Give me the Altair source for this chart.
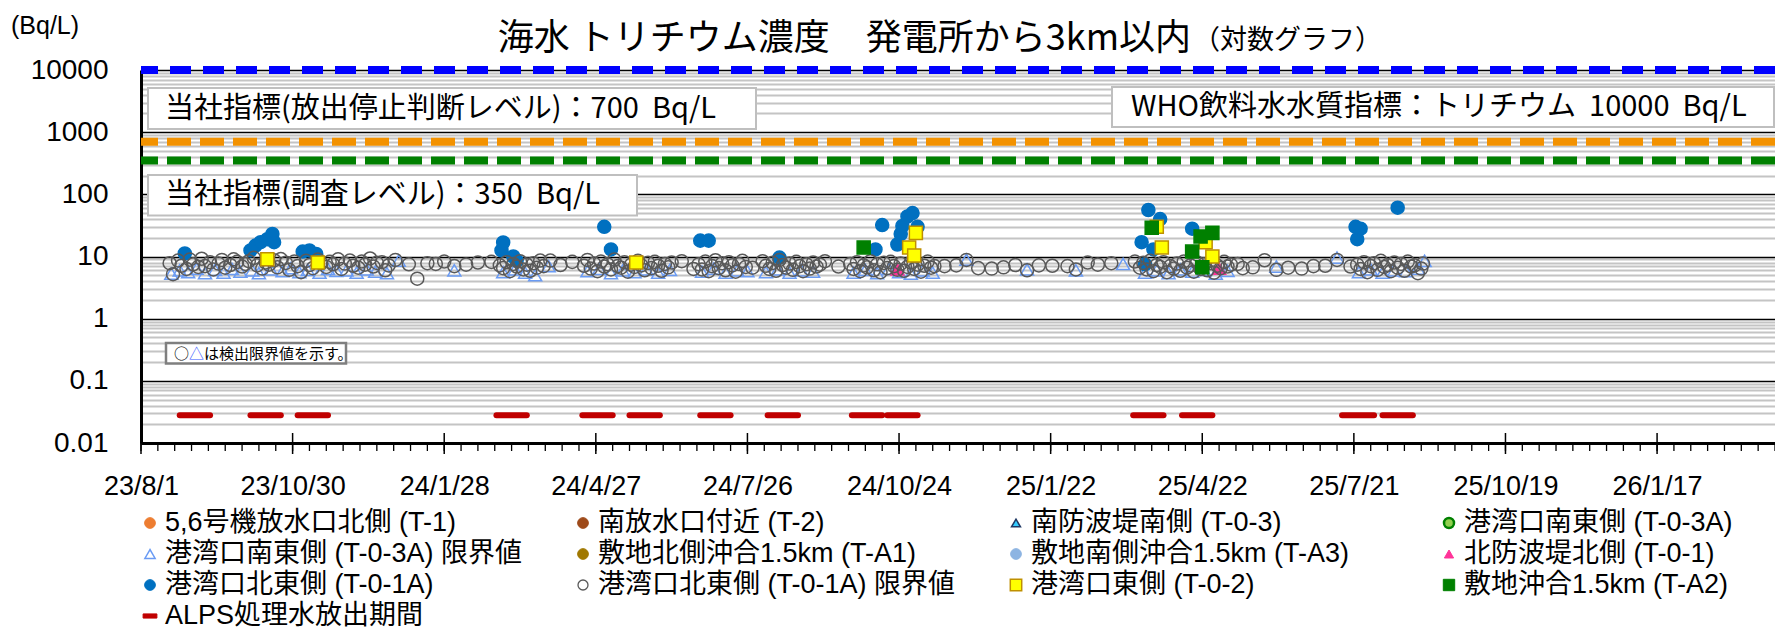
import altair as alt
import pandas as pd

FONT = "Noto Sans CJK JP"
LFONT = "Liberation Sans, Noto Sans CJK JP"
BASE = "2023-08-01"
DAY_MS = 86400000
base_ms = int(pd.Timestamp(BASE, tz="UTC").value // 10**6)

# ---------------- data ----------------
series_names = [
    "5,6号機放水口北側 (T-1)", "南放水口付近 (T-2)", "南防波堤南側 (T-0-3)", "港湾口南東側 (T-0-3A)",
    "港湾口南東側 (T-0-3A) 限界値", "敷地北側沖合1.5km (T-A1)", "敷地南側沖合1.5km (T-A3)", "北防波堤北側 (T-0-1)",
    "港湾口北東側 (T-0-1A)", "港湾口北東側 (T-0-1A) 限界値", "港湾口東側 (T-0-2)", "敷地沖合1.5km (T-A2)",
    "ALPS処理水放出期間",
]

# (days since 2023-08-01, Bq/L)
t03a_limit = [
    (18, 5.3), (23, 6.0), (28, 5.6), (33, 6.4), (38, 5.4), (44, 6.1), (49, 5.5), (54, 6.3), (59, 5.7),
    (66, 6.0), (70, 5.4), (77, 6.2), (84, 5.8), (89, 6.5), (94, 5.6), (99, 6.1), (106, 5.5), (111, 6.3),
    (116, 5.9), (122, 6.0), (128, 5.5), (134, 6.2), (139, 5.7), (146, 5.4), (153, 8.6), (186, 6.0),
    (215, 5.6), (222, 6.2), (228, 5.5), (234, 5.0), (242, 7.0), (265, 5.8), (272, 6.3), (279, 5.4),
    (286, 6.0), (293, 5.6), (300, 6.2), (307, 5.5), (314, 6.1), (333, 5.7), (340, 6.4), (347, 5.5),
    (354, 6.0), (360, 5.8), (371, 5.6), (378, 6.2), (385, 5.5), (392, 6.0), (399, 5.7), (423, 5.5),
    (430, 6.1), (437, 5.4), (444, 6.3), (450, 5.6), (457, 5.3), (464, 6.0), (470, 5.5), (490, 8.9),
    (526, 6.2), (555, 6.0), (583, 7.6), (596, 5.5), (603, 6.0), (610, 5.4), (617, 6.2), (624, 5.7),
    (631, 6.1), (638, 5.3), (645, 5.9), (674, 6.9), (710, 9.6), (723, 5.6), (730, 6.2), (737, 5.5),
    (744, 6.0), (751, 5.8), (758, 6.4), (762, 8.5),
]
t01_pink = [(449, 6.2), (640, 6.4)]
t01a_blue = [
    (26, 11.2), (65, 12.5), (68, 15), (71, 17), (75, 19), (78, 23), (79, 17), (96, 12), (100, 12.5),
    (104, 11), (214, 12.5), (215, 16.8), (221, 10), (223, 8.6), (275, 30), (279, 13), (332, 18),
    (337, 18), (379, 9.6), (436, 13), (440, 32), (449, 15.6), (451, 23), (452, 31), (455, 44),
    (458, 50), (461, 30), (594, 17), (596, 7.5), (598, 56), (601, 13), (605, 40), (624, 28),
    (721, 30), (722, 19), (724, 28), (746, 61),
]
t01a_limit = [
    (17, 7.8), (19, 5.2), (22, 8.6), (24, 7.1), (27, 6.3), (29, 8.9), (31, 7.5), (34, 6.8), (36, 9.2),
    (38, 7.0), (41, 8.1), (43, 6.2), (46, 7.7), (48, 8.8), (50, 6.6), (53, 7.3), (55, 9.0), (57, 8.2),
    (60, 6.9), (62, 7.6), (64, 8.4), (67, 9.5), (69, 7.2), (72, 6.4), (74, 8.0), (76, 7.4), (79, 8.7),
    (81, 6.7), (83, 9.1), (86, 7.9), (88, 6.1), (91, 8.3), (93, 7.0), (95, 5.6), (98, 8.5), (100, 7.3),
    (102, 6.5), (105, 8.9), (107, 7.8), (110, 6.8), (112, 8.2), (114, 7.5), (117, 9.0), (119, 6.3),
    (121, 7.7), (124, 8.6), (126, 7.1), (129, 6.6), (131, 8.3), (133, 7.4), (136, 9.3), (138, 6.9),
    (140, 7.9), (143, 8.1), (145, 6.0), (147, 7.2),
    (151, 8.8), (159, 7.5), (164, 4.4), (170, 7.8), (175, 7.6), (180, 8.3), (186, 7.0), (193, 7.4),
    (200, 8.0), (208, 8.2),
    (213, 7.2), (215, 6.5), (217, 8.1), (219, 5.8), (221, 7.6), (223, 6.9), (225, 8.4), (227, 6.2),
    (229, 7.4), (231, 5.9), (233, 7.8), (235, 6.6), (237, 8.6), (239, 7.0),
    (243, 8.6), (249, 7.3), (256, 8.2),
    (263, 7.1), (265, 8.8), (267, 6.4), (269, 7.7), (271, 5.8), (273, 8.3), (275, 6.9), (277, 7.5),
    (279, 6.2), (281, 8.9), (283, 7.0), (285, 6.6), (287, 8.1), (289, 5.7), (291, 7.4), (293, 6.8),
    (295, 8.5), (297, 7.2), (299, 6.0), (301, 7.9), (303, 6.5), (305, 8.2), (307, 7.1), (309, 5.9),
    (311, 7.6), (313, 6.7), (315, 8.0),
    (321, 8.4), (328, 6.3),
    (331, 7.5), (333, 6.2), (335, 8.3), (337, 5.8), (339, 7.0), (341, 8.7), (343, 6.5), (345, 7.8),
    (347, 6.0), (349, 8.1), (351, 7.2), (353, 5.7), (355, 7.6), (357, 8.5), (359, 6.8),
    (363, 6.6),
    (369, 8.4), (371, 7.1), (373, 6.3), (375, 7.9), (377, 5.9), (379, 8.8), (381, 7.3), (383, 6.6),
    (385, 7.7), (387, 6.1), (389, 8.2), (391, 7.0), (393, 5.8), (395, 7.5), (397, 6.4), (399, 8.0),
    (401, 6.9), (403, 7.4),
    (406, 8.4), (414, 6.9),
    (421, 7.6), (423, 6.3), (425, 8.1), (427, 5.8), (429, 7.2), (431, 6.7), (433, 8.4), (435, 6.0),
    (437, 7.5), (439, 5.6), (441, 7.9), (443, 6.5), (445, 8.2), (447, 7.0), (449, 6.1), (451, 7.7),
    (453, 5.9), (455, 6.8), (457, 8.0), (459, 6.3), (461, 7.4), (463, 5.7), (465, 7.1), (467, 8.3),
    (469, 6.6), (471, 7.0),
    (477, 7.0), (484, 7.2), (490, 8.8), (497, 6.5), (505, 6.4), (512, 6.7), (519, 7.3), (526, 6.0),
    (533, 7.2), (541, 7.1), (550, 7.0), (555, 6.2), (562, 8.0), (568, 7.4), (576, 7.8), (590, 8.3),
    (593, 6.6), (595, 7.9), (597, 6.2), (599, 8.5), (601, 5.8), (603, 7.3), (605, 6.8), (607, 8.1),
    (609, 5.6), (611, 7.0), (613, 6.4), (615, 7.7), (617, 5.9), (619, 8.3), (621, 6.6), (623, 7.2),
    (625, 5.7), (627, 8.0), (629, 6.3), (631, 7.5), (633, 6.0), (635, 7.8), (637, 5.5), (639, 7.1),
    (641, 6.5), (643, 8.2), (645, 6.9), (647, 7.4),
    (651, 7.6), (654, 6.5), (660, 6.7), (667, 8.7), (674, 6.1), (681, 6.6), (689, 6.4), (696, 7.0),
    (703, 7.1), (710, 8.8), (718, 6.9),
    (722, 7.4), (724, 6.3), (726, 8.1), (728, 5.6), (730, 7.0), (732, 7.8), (734, 6.1), (736, 8.5),
    (738, 6.8), (740, 7.3), (742, 5.8), (744, 8.0), (746, 6.6), (748, 7.6), (750, 5.9), (752, 8.3),
    (754, 6.9), (756, 7.2), (758, 5.4), (760, 6.4), (761, 7.7),
]
t02_yellow = [(75, 9), (105, 8), (294, 8), (456, 14), (459, 10.4), (460, 24), (603, 30), (606, 14),
              (632, 17), (636, 10)]
ta2_green = [(429, 14), (600, 29), (624, 12), (629, 21), (630, 6.7), (636, 24)]

alps_start = ["2023-08-24", "2023-10-05", "2023-11-02", "2024-02-28", "2024-04-19", "2024-05-17",
              "2024-06-28", "2024-08-07", "2024-09-26", "2024-10-17", "2025-03-12", "2025-04-10",
              "2025-07-14", "2025-08-07"]
alps_end = ["2023-09-11", "2023-10-23", "2023-11-20", "2024-03-17", "2024-05-07", "2024-06-04",
            "2024-07-16", "2024-08-25", "2024-10-14", "2024-11-04", "2025-03-30", "2025-04-28",
            "2025-08-02", "2025-08-25"]
alps_level = 0.028

who_level = [10000]
stop_level = [700]
survey_level = [350]

major_tick_labels = ["2023-08-01", "2023-10-30", "2024-01-28", "2024-04-27", "2024-07-26",
                     "2024-10-24", "2025-01-22", "2025-04-22", "2025-07-21", "2025-10-19", "2026-01-17"]

# ---------------- styles ----------------
shape_range = ["circle", "circle", "triangle-up", "circle", "triangle-up", "circle", "circle",
               "triangle-up", "circle", "circle", "square", "square", "M-1,-0.3H1V0.3H-1Z"]
fill_range = ["#ED7D31", "#9E4A1A", "#33CCFF", "#92D050", "transparent", "#A07800", "#8DB4E2",
              "#FF3399", "#0070C0", "transparent", "#FFFF00", "#008000", "#C00000"]
stroke_range = ["#ED7D31", "#9E4A1A", "#1F3864", "#008000", "#6A9BF4", "#A07800", "#8DB4E2",
                "#FF3399", "#0070C0", "#595959", "#BF9000", "#008000", "#C00000"]
size_range = [170, 170, 180, 170, 190, 170, 170, 70, 175, 185, 230, 230, 100]
legend_sizes = [115, 115, 80, 100, 105, 115, 115, 85, 115, 100, 130, 130, 190]
legend_sw = [1, 1, 1.5, 2.5, 1.5, 1, 1, 1, 1, 1.3, 1.5, 1, 1]

W, H = 1634, 373
N_DAYS = 970


def ms(s):
    return int(pd.Timestamp(s, tz="UTC").value // 10**6)


rows = []
for name, pts in [(series_names[4], t03a_limit), (series_names[7], t01_pink), (series_names[8], t01a_blue),
                  (series_names[9], t01a_limit), (series_names[10], t02_yellow), (series_names[11], ta2_green)]:
    for d, v in pts:
        rows.append({"series": name, "t": base_ms + d * DAY_MS, "v": v})
df = pd.DataFrame(rows)

alps_df = pd.DataFrame({"s": [ms(s) for s in alps_start], "e": [ms(e) for e in alps_end],
                        "v": [alps_level] * len(alps_start)})
major_df = pd.DataFrame({"t": [ms(s) for s in major_tick_labels]})
minor_df = pd.DataFrame({"t": [base_ms + d * DAY_MS for d in range(0, N_DAYS + 1, 10)]})

decades = [0.01, 0.1, 1, 10, 100, 1000, 10000]
y_ticks = decades + [m * d for d in decades[:-1] for m in range(2, 10)]

dec_test = "indexof([0.01,0.1,1,10,100,1000,10000], datum.value) >= 0"

xscale = alt.Scale(type="utc", domain=[base_ms, base_ms + N_DAYS * DAY_MS], nice=False)
yscale = alt.Scale(type="log", domain=[0.01, 10000], nice=False)

xaxis = alt.Axis(
    values=[ms(s) for s in major_tick_labels], grid=False, domainColor="black", domainWidth=3, ticks=False,
    labelFontSize=27, labelFont=LFONT, labelColor="black", labelPadding=30, labelOverlap=False,
    labelFlush=False, labelExpr="utcFormat(datum.value, '%y/%-m/%-d')", title=None,
)
yaxis = alt.Axis(
    values=y_ticks, format="~g", labelExpr=f"{dec_test} ? datum.label : ''", ticks=False,
    domainColor="black", domainWidth=3, labelFontSize=28, labelFont=LFONT, labelColor="black",
    labelPadding=33, labelOverlap=False, labelFlush=False,
    gridColor={"condition": {"test": dec_test, "value": "#000000"}, "value": "#c4c4c4"},
    gridWidth={"condition": {"test": dec_test, "value": 1.6}, "value": 2},
    title=None,
)

points = alt.Chart(df).mark_point(opacity=1, fillOpacity=1, strokeWidth=1.5).encode(
    x=alt.X("t:T", scale=xscale, axis=xaxis),
    y=alt.Y("v:Q", scale=yscale, axis=yaxis),
    shape=alt.Shape("series:N", scale=alt.Scale(domain=series_names, range=shape_range), legend=None),
    fill=alt.Fill("series:N", scale=alt.Scale(domain=series_names, range=fill_range), legend=None),
    stroke=alt.Stroke("series:N", scale=alt.Scale(domain=series_names, range=stroke_range), legend=None),
    size=alt.Size("series:N", scale=alt.Scale(domain=series_names, range=size_range), legend=None),
)

alps = alt.Chart(alps_df).mark_rule(color="#C00000", strokeWidth=6, strokeCap="round").encode(
    x="s:T", x2="e:T", y="v:Q"
)

who_line = alt.Chart(pd.DataFrame({"v": who_level})).mark_rule(
    color="#0000FF", strokeWidth=8, strokeDash=[21, 12]).encode(y="v:Q")
stop_line = alt.Chart(pd.DataFrame({"v": stop_level})).mark_rule(
    color="#F39200", strokeWidth=8, strokeDash=[24, 9]).encode(y="v:Q")
survey_line = alt.Chart(pd.DataFrame({"v": survey_level})).mark_rule(
    color="#008000", strokeWidth=8, strokeDash=[24, 9]).encode(y="v:Q")

major_ticks = alt.Chart(major_df).mark_rule(color="black", strokeWidth=1.5).encode(
    x="t:T", y=alt.value(H - 10), y2=alt.value(H + 11)
)
minor_ticks = alt.Chart(minor_df).mark_rule(color="black", strokeWidth=1.3).encode(
    x="t:T", y=alt.value(H), y2=alt.value(H + 8)
)

one = pd.DataFrame({"a": [0]})
NB = "\u00a0"


def box(x1, x2, y1, y2, stroke="#bfbfbf", sw=2):
    return alt.Chart(one).mark_rect(fill="white", stroke=stroke, strokeWidth=sw).encode(
        x=alt.value(x1), x2=alt.value(x2), y=alt.value(y1), y2=alt.value(y2))


def label(text, x, y, size, color="black", align="left", font=FONT):
    return alt.Chart(pd.DataFrame({"txt": [text]})).mark_text(
        font=font, fontSize=size, color=color, align=align, baseline="middle").encode(
        x=alt.value(x), y=alt.value(y), text="txt:N")


layers = [
    box(7, 615, 18, 59), label(f"当社指標(放出停止判断レベル)：700{NB}{NB}Bq/L", 24, 38.5, 29),
    box(971, 1633, 17, 57), label(f"WHO飲料水水質指標：トリチウム{NB}{NB}10000{NB}{NB}Bq/L", 990, 37, 29),
    box(7, 496, 105, 145.5), label(f"当社指標(調査レベル)：350{NB}{NB}Bq/L", 24, 125, 29),
    box(25, 205, 273, 293.5, stroke="#7f7f7f", sw=2.5),
    label("○", 33, 283.5, 15), label("△", 48, 283.5, 15, color="#3355FF"),
    label("は検出限界値を示す。", 63, 283.5, 15),
    stop_line, survey_line, alps, points, who_line, major_ticks, minor_ticks,
    label("海水 トリチウム濃度　発電所から3km以内", 1050, -31, 36, align="right"),
    label("（対数グラフ）", 1052, -29, 27),
    label("(Bq/L)", -130, -44, 25, font=LFONT),
]

# manual legend: 4 columns, row-major, in the reference's order
LEG_X0, LEG_DX = 9, 433
LEG_Y0, LEG_DY = 453, 31
for i, name in enumerate(series_names):
    col, row = i % 4, i // 4
    sx = LEG_X0 + col * LEG_DX
    sy = LEG_Y0 + row * LEG_DY
    layers.append(
        alt.Chart(one).mark_point(
            shape=shape_range[i], fill=fill_range[i], stroke=stroke_range[i], size=legend_sizes[i],
            strokeWidth=legend_sw[i], opacity=1, fillOpacity=1,
        ).encode(x=alt.value(sx), y=alt.value(sy))
    )
    layers.append(label(name, sx + 15, sy, 27, font=LFONT))

chart = alt.layer(*layers).properties(
    width=W, height=H, autosize="none",
    padding={"left": 133, "top": 62, "right": 0, "bottom": 188},
).configure_view(stroke=None).configure(font=FONT)

chart.save("out.html", embed_options={"renderer": "svg", "actions": False})
